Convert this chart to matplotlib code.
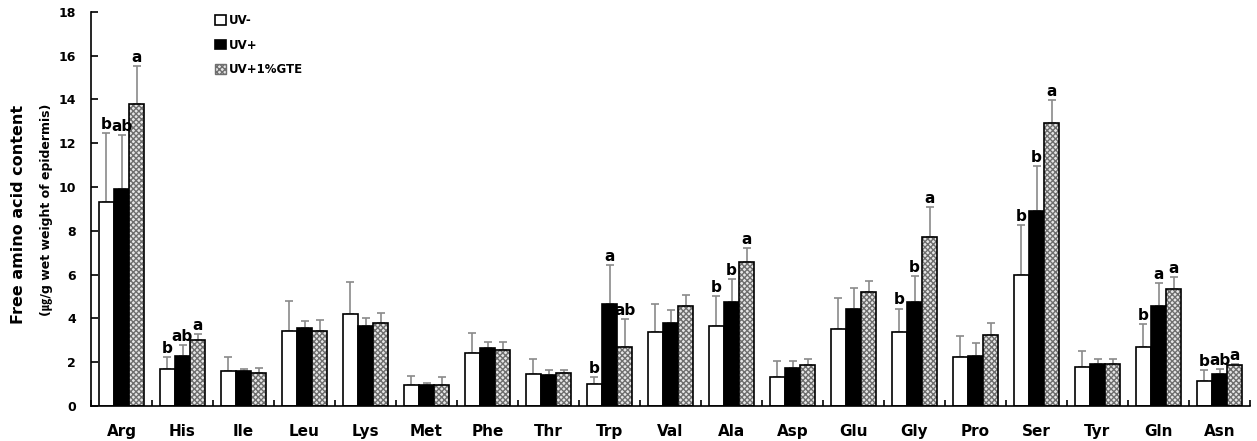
import matplotlib
matplotlib.use("Agg")
import matplotlib.pyplot as plt
import numpy as np
from matplotlib.patches import Patch

categories = ["Arg", "His", "Ile", "Leu", "Lys", "Met", "Phe", "Thr", "Trp", "Val",
              "Ala", "Asp", "Glu", "Gly", "Pro", "Ser", "Tyr", "Gln", "Asn"]
series_names = ["UV-", "UV+", "UV+1%GTE"]

uv_minus = [9.33, 1.67, 1.61, 3.41, 4.21, 0.96, 2.43, 1.47, 1.00, 3.36,
            3.65, 1.34, 3.51, 3.36, 2.22, 6.00, 1.79, 2.70, 1.14]
uv_plus = [9.90, 2.28, 1.58, 3.55, 3.65, 0.95, 2.66, 1.43, 4.65, 3.80,
           4.75, 1.72, 4.45, 4.73, 2.29, 8.90, 1.93, 4.56, 1.47]
uv_gte = [13.80, 3.03, 1.52, 3.41, 3.80, 0.96, 2.55, 1.52, 2.70, 4.56,
          6.58, 1.88, 5.21, 7.72, 3.22, 12.93, 1.93, 5.35, 1.87]

err_minus = [3.15, 0.55, 0.61, 1.39, 1.46, 0.42, 0.90, 0.67, 0.32, 1.29,
             1.38, 0.70, 1.41, 1.09, 0.97, 2.25, 0.72, 1.04, 0.50]
err_plus = [2.48, 0.50, 0.12, 0.34, 0.38, 0.10, 0.24, 0.20, 1.79, 0.59,
            1.04, 0.32, 0.94, 1.21, 0.60, 2.07, 0.20, 1.06, 0.23]
err_gte = [1.70, 0.25, 0.23, 0.53, 0.46, 0.36, 0.38, 0.14, 1.28, 0.51,
           0.61, 0.25, 0.49, 1.36, 0.55, 1.05, 0.20, 0.55, 0.04]

letters_minus = ["b", "b", "", "", "", "", "", "", "b", "", "b", "", "", "b", "", "b", "", "b", "b"]
letters_plus = ["ab", "ab", "", "", "", "", "", "", "a", "", "b", "", "", "b", "", "b", "", "a", "ab"]
letters_gte = ["a", "a", "", "", "", "", "", "", "ab", "", "a", "", "", "a", "", "a", "", "a", "a"]

yticks = [0, 2, 4, 6, 8, 10, 12, 14, 16, 18]

fig = plt.figure(figsize=(12.57, 4.41), dpi=100)
ax = fig.add_axes([91/1257, 1-406/441, 1159/1257, (406-11.7)/441])

x = np.arange(len(categories))
w = 0.25
offs = [-w, 0, w]
vals = [uv_minus, uv_plus, uv_gte]
errs = [err_minus, err_plus, err_gte]
letts = [letters_minus, letters_plus, letters_gte]

for i in range(3):
    xs = x + offs[i]
    ax.errorbar(xs, vals[i], yerr=[np.zeros(len(x)), errs[i]], fmt="none",
                ecolor="#8a8a8a", elinewidth=1.2, capsize=3, capthick=1.2, zorder=1)

ax.bar(x + offs[0], uv_minus, w, color="white", edgecolor="black", linewidth=1.2, zorder=2)
ax.bar(x + offs[1], uv_plus, w, color="black", edgecolor="black", linewidth=1.2, zorder=2)
ax.bar(x + offs[2], uv_gte, w, color="#e6e6e6", edgecolor="#6e6e6e", hatch="xxxxxx",
       linewidth=0, zorder=2)
ax.bar(x + offs[2], uv_gte, w, fill=False, edgecolor="black", linewidth=1.2, zorder=3)

for i in range(3):
    for j in range(len(x)):
        t = letts[i][j]
        if t:
            ax.text(x[j] + offs[i], vals[i][j] + errs[i][j] + 0.05, t, ha="center", va="bottom",
                    fontsize=11, fontweight="bold", color="black", zorder=4)

ax.set_xlim(-0.5, len(categories) - 0.5)
ax.set_ylim(0, 18)
ax.set_yticks(yticks)
ax.set_yticklabels([str(v) for v in yticks], fontsize=9, fontweight="bold")
ax.set_xticks(x)
ax.set_xticklabels(categories, fontsize=11, fontweight="bold")
ax.tick_params(axis="x", length=0, pad=13)
ax.set_xticks(np.arange(len(categories) + 1) - 0.5, minor=True)
ax.tick_params(axis="x", which="minor", direction="in", length=4, width=1.2)
ax.tick_params(axis="y", direction="in", length=5, width=1.2, pad=11)
ax.spines["top"].set_visible(False)
ax.spines["right"].set_visible(False)
ax.spines["left"].set_linewidth(1.2)
ax.spines["bottom"].set_linewidth(1.2)

fig.text(19/1257, 1-214/441, "Free amino acid content", rotation=90, ha="center", va="center",
         fontsize=11.5, fontweight="bold")
fig.text(47/1257, 1-210/441, "(\u338d/g wet weight of epidermis)", rotation=90, ha="center",
         va="center", fontsize=9, fontweight="bold", family=["DejaVu Sans", "Noto Sans CJK KR"])

handles = [Patch(facecolor="white", edgecolor="black", linewidth=1.2),
           Patch(facecolor="black", edgecolor="black", linewidth=1.2),
           Patch(facecolor="#e6e6e6", edgecolor="#6e6e6e", hatch="xxxxxx", linewidth=1.0)]
leg = ax.legend(handles, series_names, loc="upper left", bbox_to_anchor=(0.098, 1.02),
                frameon=False, prop={"weight": "bold", "size": 8.5},
                handlelength=0.9, handleheight=0.9, handletextpad=0.3, labelspacing=0.95)

fig.savefig("out.png", dpi=100)
